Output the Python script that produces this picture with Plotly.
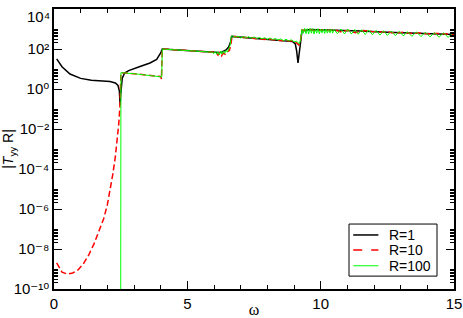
import plotly.graph_objects as go

# R=1 (black)
x_r1 = [0.1, 0.3, 0.6, 1.0, 1.4, 1.8, 2.1, 2.3, 2.4, 2.45, 2.48, 2.5, 2.52, 2.56, 2.65, 2.8,
        3.2, 3.6, 3.85, 4.0, 4.06, 5.0, 6.0, 6.2, 6.3, 6.45, 6.55, 6.62, 6.66, 7.7, 8.5, 8.95,
        9.05, 9.1, 9.15, 9.2, 9.25, 9.3, 9.6, 10.5, 11.5, 12.5, 13.5, 14.5, 15.0]
y_r1 = [32, 13, 5.6, 3.4, 2.75, 2.5, 2.35, 2.0, 1.5, 0.8, 0.16, 0.5, 1.6, 3.5, 6.3, 8.3,
        13, 20, 30, 63, 100, 85, 68, 66, 71, 89, 126, 224, 427, 324, 269, 234,
        178, 79, 20, 63, 316, 794, 933, 891, 794, 692, 617, 550, 525]

# R=10 (red dashed)
x_r10 = [0.1, 0.3, 0.5, 0.7, 0.9, 1.1, 1.3, 1.5, 1.7, 1.86, 2.0, 2.11, 2.2, 2.3, 2.37, 2.43,
         2.47, 2.49, 2.51, 3.0, 3.5, 4.0, 4.03, 4.06, 4.5, 5.0, 5.5, 6.0, 6.1, 6.15, 6.2, 6.28,
         6.35, 6.42, 6.5, 6.58, 6.64, 6.68, 6.9, 7.2, 7.5, 7.7, 7.9, 8.0, 8.3, 8.6, 8.9, 9.0,
         9.1, 9.18, 9.24, 9.3, 9.4, 9.6, 9.8, 10.0, 10.3, 10.5, 10.8, 11.0, 11.3, 11.6, 11.9,
         12.2, 12.5, 12.8, 13.1, 13.4, 13.7, 14.0, 14.3, 14.6, 14.9, 15.0]
y_r10 = [2e-9, 7e-10, 5.6e-10, 6.3e-10, 8.9e-10, 1.8e-9, 5e-9, 1.8e-8, 8.9e-8, 3.2e-7, 1.6e-6,
         8.5e-6, 5e-5, 4e-4, 2.5e-3, 1.9e-2, 0.126, 0.63, 6.6, 5.8, 4.9, 4.2, 3.2, 100, 93, 85,
         78, 68, 63, 50, 66, 45, 63, 55, 72, 85, 200, 430, 410, 380, 350, 320, 300, 330, 280,
         260, 240, 250, 200, 160, 250, 900, 850, 930, 800, 900, 850, 920, 700, 870, 650, 850,
         750, 700, 720, 620, 680, 600, 640, 560, 600, 560, 520, 540]

# R=100 (green)
x_r100 = [2.5, 2.51, 3.0, 3.5, 4.0, 4.04, 4.06, 4.5, 5.0, 5.5, 5.9, 6.0, 6.05, 6.1, 6.15, 6.2,
          6.25, 6.3, 6.35, 6.4, 6.45, 6.5, 6.55, 6.6, 6.65, 6.7, 6.8, 6.9, 7.0, 7.1, 7.2, 7.3,
          7.4, 7.5, 7.6, 7.7, 7.8, 7.9, 8.0, 8.1, 8.2, 8.3, 8.4, 8.5, 8.6, 8.7, 8.8, 8.9, 9.0,
          9.1, 9.2, 9.25, 9.3, 9.35, 9.4, 9.45, 9.5, 9.55, 9.6, 9.65, 9.7, 9.75, 9.8, 9.85, 9.9,
          9.95, 10.0, 10.05, 10.1, 10.15, 10.2, 10.25, 10.3, 10.35, 10.4, 10.45, 10.5, 10.63,
          10.76, 10.89, 11.02, 11.15, 11.28, 11.41, 11.54, 11.67, 11.8, 11.94, 12.08, 12.22,
          12.36, 12.5, 12.65, 12.8, 12.95, 13.1, 13.25, 13.42, 13.59, 13.76, 13.93, 14.1, 14.27,
          14.44, 14.61, 14.78, 14.95, 15.0]
y_r100 = [1e-12, 6.6, 5.8, 4.9, 4.2, 4.0, 100, 93, 84, 77, 70, 60, 75, 55, 72, 50,
          78, 55, 80, 60, 85, 70, 95, 150, 420, 450, 380, 440, 360, 420, 350, 410,
          340, 400, 330, 380, 320, 370, 300, 360, 290, 340, 280, 320, 260, 310, 250, 290, 230,
          240, 180, 300, 950, 620, 1080, 580, 1040, 560, 1080, 620, 1040, 560, 1000, 620, 1040,
          580, 1000, 640, 980, 600, 1000, 620, 950, 640, 980, 620, 950, 580,
          1000, 570, 980, 560, 945, 550, 920, 530, 880, 515, 860, 495,
          820, 480, 790, 465, 765, 450, 735, 430, 715, 420, 685, 405, 655,
          390, 640, 380, 625, 560]

y_tick_exp = [-10, -8, -6, -4, -2, 0, 2, 4]
x_tick_vals = [0, 5, 10, 15]

legend_names = ["R=1", "R=10", "R=100"]
legend_colors = ["black", "#ff0000", "#00ff00"]

FONT = "Liberation Sans, DejaVu Sans, Arial, sans-serif"
SUP = str.maketrans("-0123456789", "⁻⁰¹²³⁴⁵⁶⁷⁸⁹")


def pow_label(e):
    return "10" + str(e).translate(SUP)


fig = go.Figure()
fig.add_trace(go.Scatter(x=x_r1, y=y_r1, mode="lines", name=legend_names[0],
                         line=dict(color=legend_colors[0], width=1.5)))
fig.add_trace(go.Scatter(x=x_r10, y=y_r10, mode="lines", name=legend_names[1],
                         line=dict(color=legend_colors[1], width=1.5, dash="6px,3px")))
fig.add_trace(go.Scatter(x=x_r100, y=y_r100, mode="lines", name=legend_names[2],
                         line=dict(color=legend_colors[2], width=1)))

minor_y = [m * 10.0 ** k for k in range(-10, 4, 2) for m in range(2, 10)]

# legend drawn as a boxed key in paper coordinates
shapes = [dict(type="rect", xref="paper", yref="paper", x0=0.7375, x1=0.9575, y0=0.046, y1=0.232,
               line=dict(color="black", width=1), fillcolor="white", layer="above")]
annotations = []
row_y = [0.193, 0.139, 0.083]
dashes = ["solid", "dash", "solid"]
widths = [1.5, 1.5, 1]
for i in range(3):
    shapes.append(dict(type="line", xref="paper", yref="paper", x0=0.748, x1=0.811,
                       y0=row_y[i], y1=row_y[i], layer="above",
                       line=dict(color=legend_colors[i], width=widths[i], dash=dashes[i])))
    annotations.append(dict(xref="paper", yref="paper", x=0.832, y=row_y[i], text=legend_names[i],
                            showarrow=False, xanchor="left", yanchor="middle",
                            font=dict(size=14, family=FONT, color="black")))

# y tick labels; the top one sits just below the frame corner
y_ticktext = [pow_label(e) for e in y_tick_exp]
y_ticktext[-1] = ""
annotations.append(dict(xref="paper", yref="paper", x=0, y=0.975, xshift=-2,
                        text=pow_label(y_tick_exp[-1]), showarrow=False,
                        xanchor="right", yanchor="middle",
                        font=dict(size=15, family=FONT, color="black")))

fig.update_layout(
    width=463, height=318,
    margin=dict(l=54, r=9, t=9, b=29),
    paper_bgcolor="white", plot_bgcolor="white",
    font=dict(family=FONT, size=14, color="black"),
    showlegend=False,
    shapes=shapes, annotations=annotations,
    xaxis=dict(range=[0, 15], showgrid=False, zeroline=False, automargin=False,
               showline=True, linecolor="black", linewidth=1.5, mirror="ticks",
               ticks="inside", ticklen=8, tickwidth=1, tickcolor="black",
               tickvals=x_tick_vals, tickfont=dict(size=15), ticklabeloverflow="allow",
               minor=dict(dtick=1, ticks="inside", ticklen=4, tickcolor="black", tickwidth=1),
               title=dict(text="ω", font=dict(size=16, family="Liberation Serif"), standoff=7)),
    yaxis=dict(type="log", range=[-10, 4], showgrid=False, zeroline=False, automargin=False,
               showline=True, linecolor="black", linewidth=1.5, mirror="ticks",
               ticks="inside", ticklen=8, tickwidth=1, tickcolor="black",
               tickvals=[10.0 ** e for e in y_tick_exp], ticktext=y_ticktext,
               tickfont=dict(size=15), ticklabeloverflow="allow",
               minor=dict(tickmode="array", tickvals=minor_y, ticks="inside", ticklen=4,
                          tickcolor="black", tickwidth=1),
               title=dict(text="|<i>T</i><sub>yy</sub> R|", font=dict(size=14), standoff=36)),
)

fig.write_html("out.html", post_script="document.body.style.margin='0';",
               config={"displayModeBar": False})
